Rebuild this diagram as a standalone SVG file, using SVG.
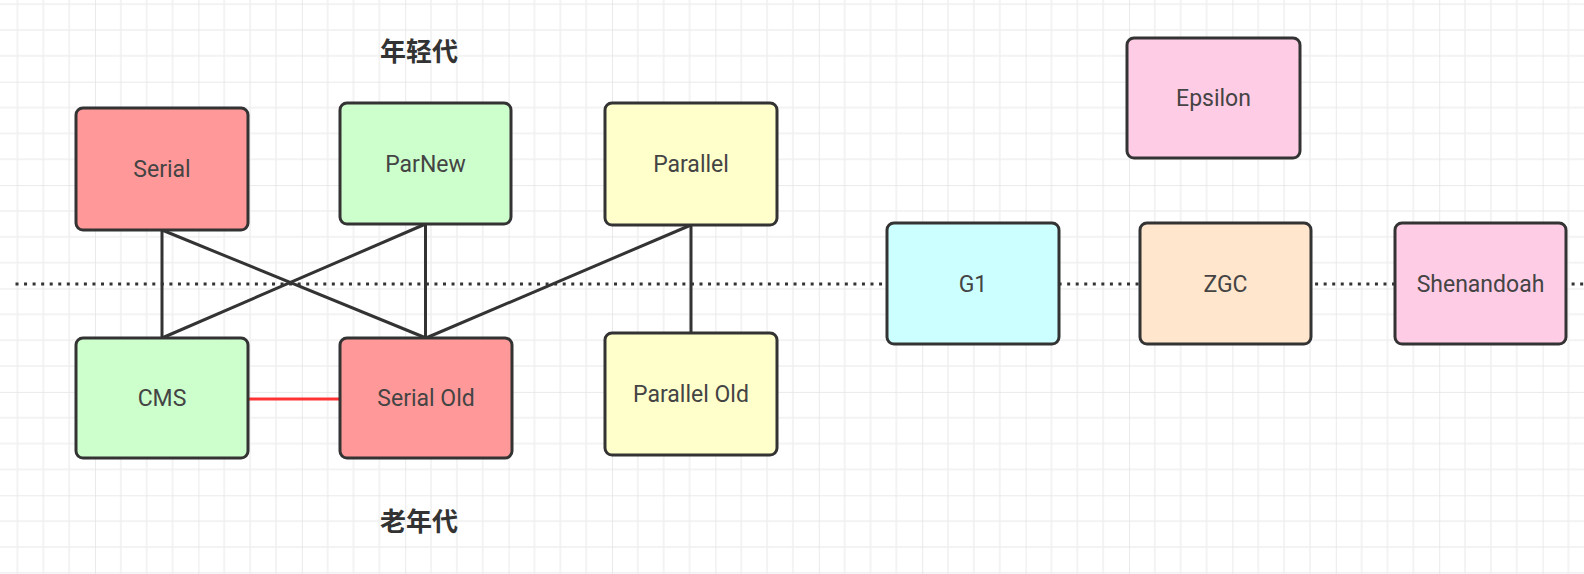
<svg xmlns="http://www.w3.org/2000/svg" width="1584" height="574" viewBox="0 0 1584 574">
  <style>
    .box { stroke: #333333; stroke-width: 3; }
    .lbl { font-family: Roboto, "Liberation Sans", sans-serif; font-size: 23px; fill: #444444; text-anchor: middle; }
    .cjk { font-family: "Noto Sans CJK SC", sans-serif; font-size: 26px; font-weight: bold; fill: #333333; text-anchor: middle; }
    .conn { stroke: #333333; stroke-width: 3; fill: none; }
    .red { stroke: #ff3333; stroke-width: 3; fill: none; }
    .dots { stroke: #333333; stroke-width: 3; stroke-dasharray: 3 5.55; fill: none; }
  </style>
  <defs>
    <pattern id="grid" patternUnits="userSpaceOnUse" x="-8.4" y="-21.7" width="103.4" height="103.4">
      <path d="M25.85 0V103.4M51.7 0V103.4M77.55 0V103.4M0 25.85H103.4M0 51.7H103.4M0 77.55H103.4" stroke="#f0f0f0" stroke-width="1.5" fill="none"/>
      <path d="M0 0V103.4M0 0H103.4" stroke="#e3e3e3" stroke-width="1.5" fill="none"/>
    </pattern>
  </defs>
  <rect width="1584" height="574" fill="#ffffff"/>
  <rect width="1584" height="574" fill="url(#grid)"/>

  <g id="connectors">
    <line class="dots" x1="15.5" y1="284" x2="1584" y2="284"/>
    <line class="conn" x1="162" y1="230" x2="162" y2="338"/>
    <line class="conn" x1="162" y1="230" x2="426" y2="338"/>
    <line class="conn" x1="425.5" y1="224" x2="162" y2="338"/>
    <line class="conn" x1="425.5" y1="224" x2="425.5" y2="338"/>
    <line class="conn" x1="691" y1="225" x2="426" y2="338"/>
    <line class="conn" x1="691" y1="225" x2="691" y2="333"/>
    <line class="red" x1="248" y1="399" x2="340" y2="399"/>
  </g>

  <g id="label-young">
    <text class="cjk" x="419" y="61">年轻代</text>
  </g>
  <g id="label-old">
    <text class="cjk" x="419" y="531">老年代</text>
  </g>

  <g id="serial">
    <rect class="box" x="76" y="108" width="172" height="122" rx="7" fill="#ff9999"/>
    <text class="lbl" x="162" y="177.2">Serial</text>
  </g>
  <g id="parnew">
    <rect class="box" x="340" y="103" width="171" height="121" rx="7" fill="#ccffcc"/>
    <text class="lbl" x="425.5" y="171.7">ParNew</text>
  </g>
  <g id="parallel">
    <rect class="box" x="605" y="103" width="172" height="122" rx="7" fill="#ffffcc"/>
    <text class="lbl" x="691" y="172.2">Parallel</text>
  </g>
  <g id="cms">
    <rect class="box" x="76" y="338" width="172" height="120" rx="7" fill="#ccffcc"/>
    <text class="lbl" x="162" y="406.2">CMS</text>
  </g>
  <g id="serial-old">
    <rect class="box" x="340" y="338" width="172" height="120" rx="7" fill="#ff9999"/>
    <text class="lbl" x="426" y="406.2">Serial Old</text>
  </g>
  <g id="parallel-old">
    <rect class="box" x="605" y="333" width="172" height="122" rx="7" fill="#ffffcc"/>
    <text class="lbl" x="691" y="402.2">Parallel Old</text>
  </g>
  <g id="epsilon">
    <rect class="box" x="1127" y="38" width="173" height="120" rx="7" fill="#ffcce6"/>
    <text class="lbl" x="1213.5" y="106.2">Epsilon</text>
  </g>
  <g id="g1">
    <rect class="box" x="887" y="223" width="172" height="121" rx="7" fill="#ccffff"/>
    <text class="lbl" x="973" y="291.7">G1</text>
  </g>
  <g id="zgc">
    <rect class="box" x="1140" y="223" width="171" height="121" rx="7" fill="#ffe6cc"/>
    <text class="lbl" x="1225.5" y="291.7">ZGC</text>
  </g>
  <g id="shenandoah">
    <rect class="box" x="1395" y="223" width="171" height="121" rx="7" fill="#ffcce6"/>
    <text class="lbl" x="1480.5" y="291.7">Shenandoah</text>
  </g>
</svg>
